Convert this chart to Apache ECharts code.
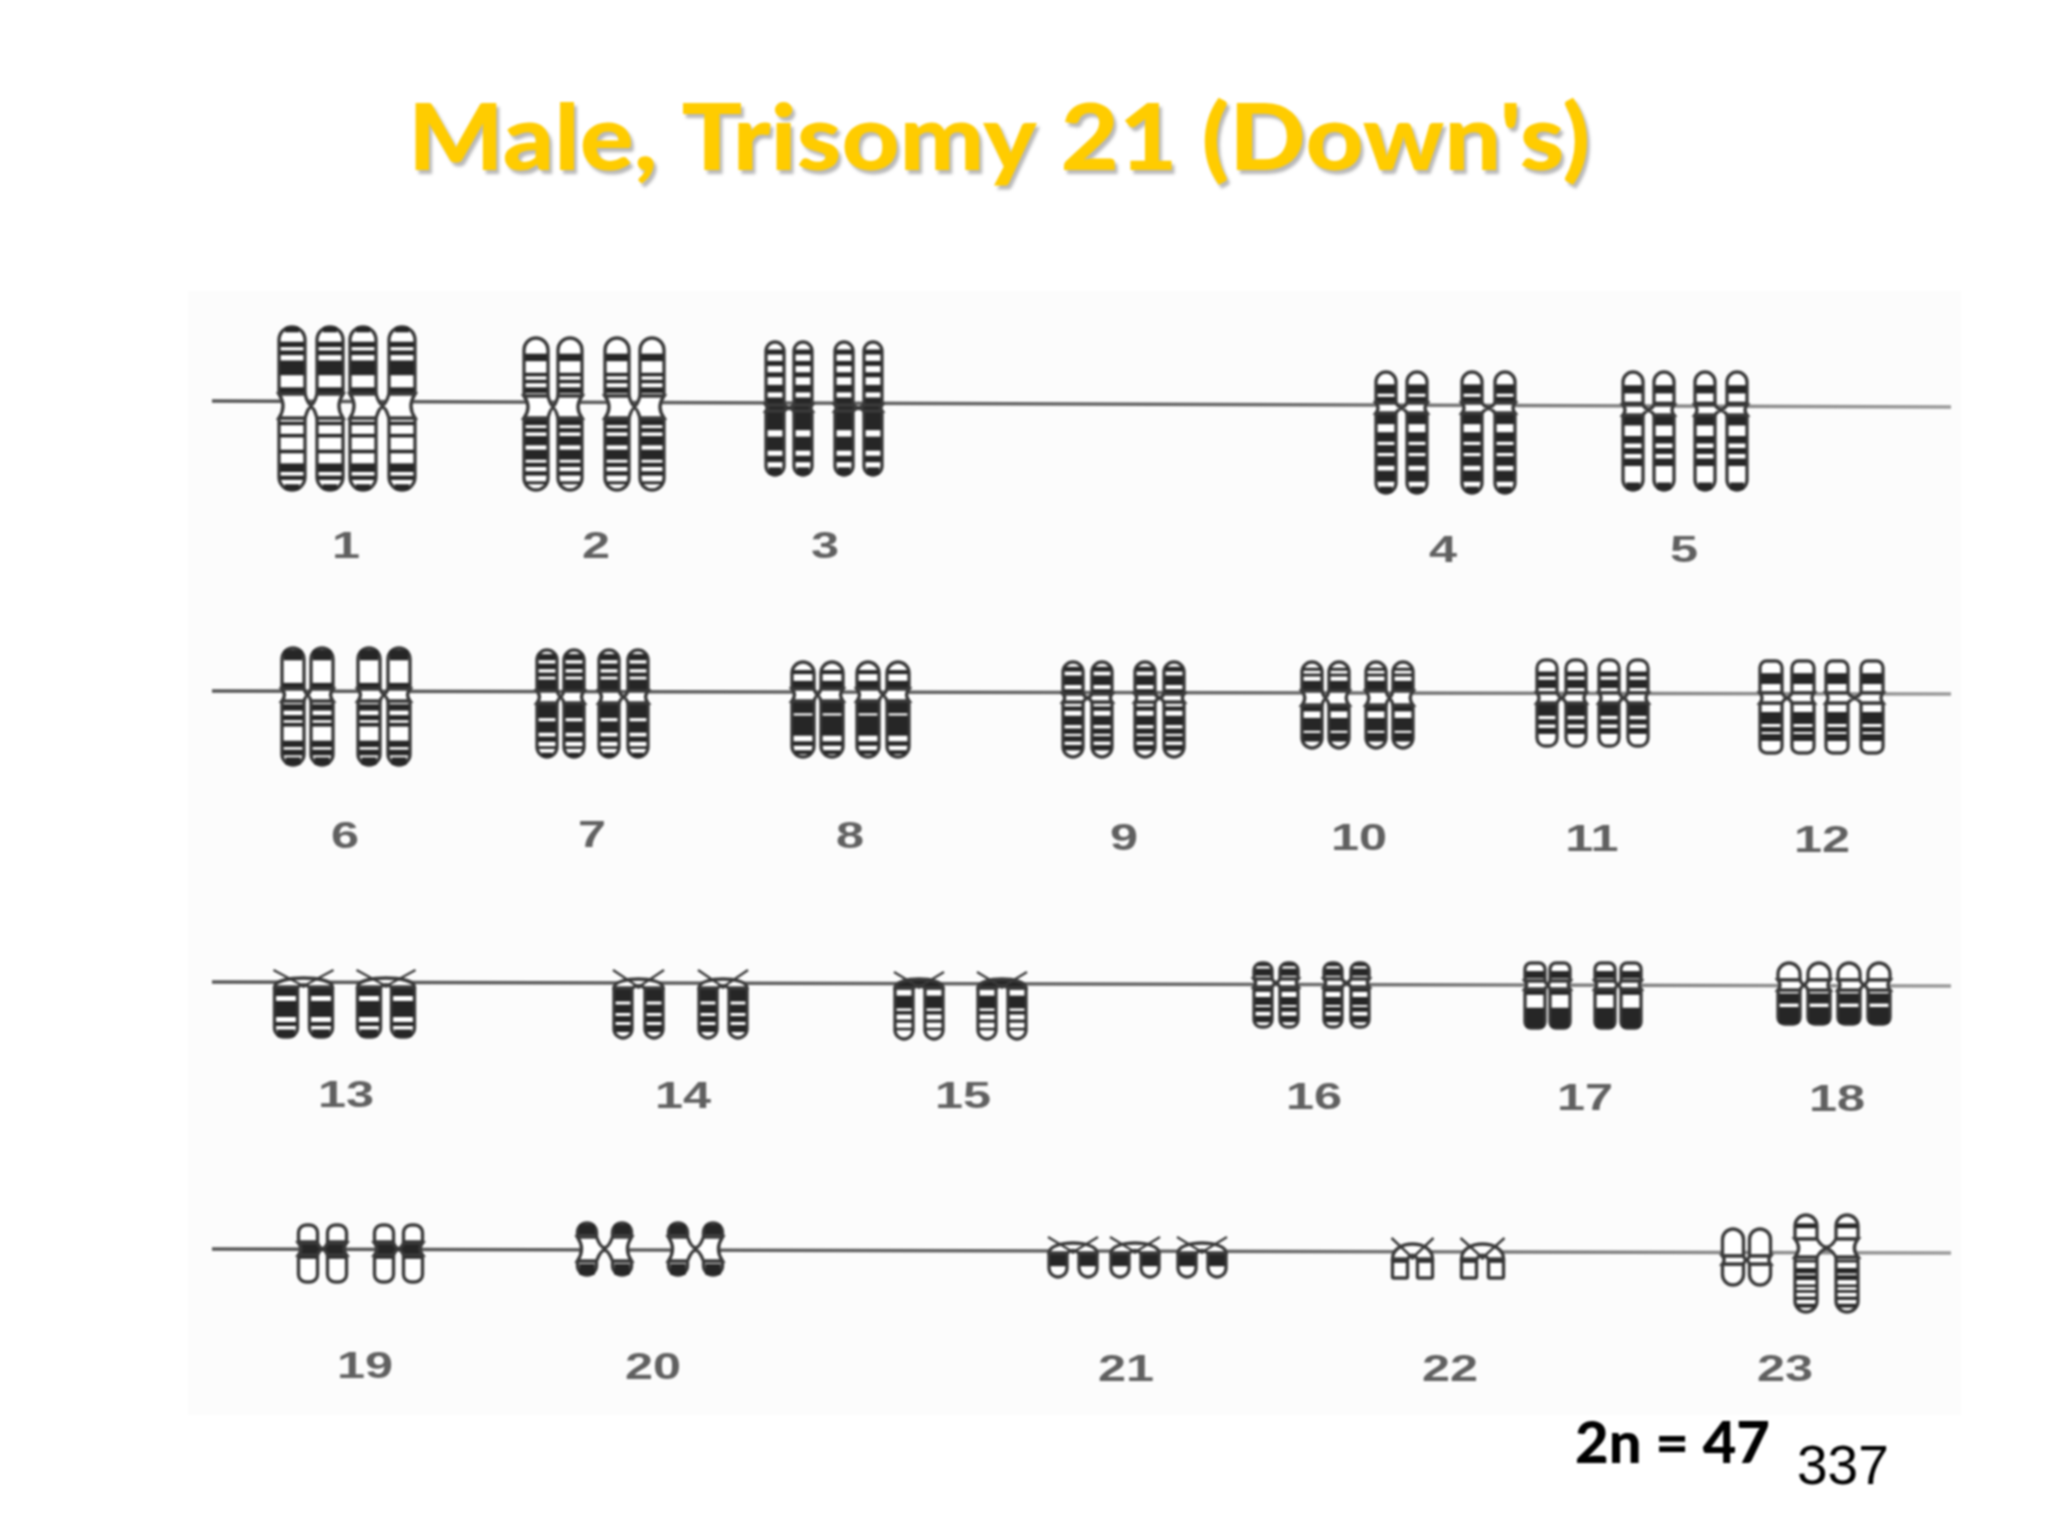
<!DOCTYPE html>
<html><head><meta charset="utf-8">
<style>html,body{margin:0;padding:0;background:#fff}#c{width:2048px;height:1536px;filter:blur(0.9px)}</style>
<script src="https://cdn.jsdelivr.net/npm/echarts@6/dist/echarts.min.js"></script>
</head><body><div id="c"></div>
<script>
const titleText = "Male, Trisomy 21 (Down's)";
const titleAnchor = [408,140];
const countText = "2n = 47";
const pageText = "337";

// Number labels under each chromosome group
const labelTexts = ['1','2','3','4','5','6','7','8','9','10','11','12','13','14','15','16','17','18','19','20','21','22','23'];
const labelX = [346,596,825,1443,1684,345,592,850,1124,1359,1592,1822,346,683,963,1314,1585,1837,365,653,1126,1450,1785];
const labelY = [548,548,548,552,552,838,837,838,840,840,841,842,1097,1098,1098,1099,1100,1101,1368,1369,1371,1371,1371];

// Row rulers (x range and y at each end)
const rulerX = [212,1951];
const rulerY = [[401,407],[691,694],[982,986],[1249,1253]];

// Chromosome groups (group 23 is drawn as two entries: small and large)
const chromatidX = [
 [292,330,363,402],[536,570,617,652],[775,803,844,873],[1386,1417,1472,1505],[1633,1664,1705,1737],
 [293,322,369,399],[547,574,609,638],[803,832,868,898],[1073,1102,1145,1174],[1312,1339,1376,1403],[1547,1576,1609,1638],[1771,1803,1837,1872],
 [286,321,369,403],[623,654,708,738],[904,934,987,1017],[1263,1289,1333,1360],[1535,1560,1605,1631],[1789,1819,1849,1879],
 [308,337,384,413],[587,622,678,713],[1058,1088,1120,1150,1187,1217],[1400,1425,1469,1496],[1733,1760],[1806,1847]
];
const armTop =     [327,338,342,372,372,648,650,662,662,662,660,661,970,970,972,963,963,963,1225,1223,1237,1238,1229,1215];
const waist =      [406,407,408,408,410,695,697,695,698,698,698,698,978,979,979,983,985,985,1249,1249,1243,1244,1260,1248];
const armBottom =  [490,490,475,493,490,765,757,757,757,748,746,753,1037,1038,1039,1027,1028,1024,1282,1275,1277,1278,1285,1312];
const waistHalf =  [12,11,3,5,5,6,6,6,4,7,5,5,9,9,9,4,4,5,6,12,10,15,4,9];
const armWidth =   [26,24,18,20,20,22,20,22,20,20,20,22,23,18,18,18,20,22,19,19,18,15,21,22];
const topRound =   [1,1,1,1,1,1,1,1,1,1,.8,.6,1,1,1,.8,.6,1,.8,1,1,1,1,1];
const endRound =   [1,1,1,1,1,1,1,1,1,1,.8,.6,.8,1,1,.8,.6,.6,.8,1,1,.2,1,1];
const kind =       [0,0,1,0,0,0,0,0,0,0,0,0,2,2,3,0,0,0,1,0,2,2,0,0];

// Dark bands, as start/end shares of each arm, read top to bottom
const bandsP = [
 [[0,.08],[.22,.3],[.35,.42],[.5,.72],[.9,1]],
 [[.27,.4],[.6,.66],[.72,.78],[.85,.95]],
 [[.12,.2],[.3,.38],[.48,.56],[.68,.8],[.88,1]],
 [[.4,.7],[.8,1]],
 [[.4,.65],[.9,1]],
 [[.05,.3],[.85,1]],
 [[.1,.25],[.33,.47],[.55,.65],[.72,1]],
 [[.3,.45],[.7,1]],
 [[.15,.3],[.42,.72],[.85,1]],
 [[.2,.3],[.4,.5],[.65,1]],
 [[.35,.5],[.6,.85]],
 [[.38,.72]],
 [],[],[],
 [[.05,.2],[.35,.8]],
 [[.45,.85]],
 [],
 [[.85,1]],
 [[.1,.85]],
 [],[],[],
 [[.35,.55]]
];
const bandsQ = [
 [[.05,.1],[.22,.27],[.44,.49],[.63,.75],[.8,.86],[.92,1]],
 [[.02,.1],[.14,.2],[.25,.38],[.44,.58],[.62,.68],[.74,.8],[.88,.92]],
 [[0,.3],[.4,.62],[.7,.8],[.88,1]],
 [[0,.14],[.24,.36],[.4,.5],[.54,.66],[.72,.86],[.92,1]],
 [[0,.14],[.28,.38],[.44,.52],[.58,.68],[.9,1]],
 [[.05,.15],[.22,.3],[.34,.4],[.62,.72],[.76,.85],[.88,1]],
 [[0,.28],[.34,.55],[.62,.72],[.8,.85],[.92,1]],
 [[0,.22],[.26,.62],[.72,.8],[.88,.95]],
 [[.08,.16],[.25,.42],[.48,.58],[.62,.72],[.78,.88]],
 [[0,.15],[.3,.6],[.65,.85]],
 [[0,.3],[.38,.5],[.58,.72]],
 [[.18,.42],[.48,.58],[.62,.76]],
 [[0,.18],[.28,.6],[.7,.78],[.85,1]],
 [[0,.27],[.33,.5],[.56,.68],[.74,.88]],
 [[.15,.4],[.45,.52],[.62,.68],[.78,.83]],
 [[.05,.12],[.25,.45],[.5,.62],[.72,.88]],
 [[0,.15],[.48,1]],
 [[.1,.4],[.5,1]],
 [[0,.14]],
 [[.2,1]],
 [[0,.55]],
 [[0,.2]],
 [[0,.06]],
 [[.05,.1],[.2,.3],[.33,.42],[.5,.55],[.6,.65],[.72,.78],[.85,.92]]
];

const panelX = [188,1961];
const panelY = [291,1415];

const INK = '#3a3a3a', DARK = '#262626';

function renderPair(params, api) {
  const i = api.value(2);
  const px = v => api.coord([v, 0])[0];
  const py = v => api.coord([0, v])[1];
  const x1 = px(api.value(0)), x2 = px(api.value(1));
  const top = py(armTop[i]), mid = py(waist[i]), bot = py(armBottom[i]);
  const g = py(waist[i] + waistHalf[i]) - mid;
  const w = px(armWidth[i]) - px(0);
  const k = kind[i], r = w / 2 * endRound[i], rt = w / 2 * topRound[i], xm = (x1 + x2) / 2;
  const L = x1 - w / 2, R = x2 + w / 2, a = x1 + w / 2, b = x2 - w / 2;
  const kids = [];
  const stroke = { stroke: INK, lineWidth: 3.4 };

  function arm(xc, y0, y1, rTop, rBot, bands) {
    kids.push({ type: 'rect', shape: { x: xc - w / 2, y: y0, width: w, height: y1 - y0, r: [rTop, rTop, rBot, rBot] },
      style: Object.assign({ fill: '#fff' }, stroke) });
    bands.forEach(function (bd) {
      const s = y0 + (y1 - y0) * bd[0], e = y0 + (y1 - y0) * bd[1];
      const c = (s + e) / 2;
      let hw = w / 2;
      const dt = c - y0, db = y1 - c;
      if (rTop > 0 && dt < rTop) hw = w / 2 - rTop + Math.sqrt(rTop * rTop - (rTop - dt) * (rTop - dt));
      if (rBot > 0 && db < rBot) hw = w / 2 - rBot + Math.sqrt(rBot * rBot - (rBot - db) * (rBot - db));
      kids.push({ type: 'rect', shape: { x: xc - hw + 1, y: s, width: 2 * hw - 2, height: Math.max(e - s, 1.5) }, style: { fill: DARK } });
    });
  }

  if (k === 0 || k === 1) {
    arm(x1, top, mid - g, rt, 1, bandsP[i]); arm(x2, top, mid - g, rt, 1, bandsP[i]);
    arm(x1, mid + g, bot, 1, r, bandsQ[i]); arm(x2, mid + g, bot, 1, r, bandsQ[i]);
    const pinch = Math.min(g * .8, 8), yu = mid - g, yd = mid + g;
    const d = 'M' + L + ' ' + yu + 'L' + a + ' ' + yu + 'Q' + xm + ' ' + (mid + g * .8) + ' ' + b + ' ' + yu + 'L' + R + ' ' + yu +
      'Q' + (R - pinch) + ' ' + mid + ' ' + R + ' ' + yd + 'L' + b + ' ' + yd + 'Q' + xm + ' ' + (mid - g * .8) + ' ' + a + ' ' + yd +
      'L' + L + ' ' + yd + 'Q' + (L + pinch) + ' ' + mid + ' ' + L + ' ' + yu + 'Z';
    kids.push({ type: 'path', shape: { pathData: d }, style: Object.assign({ fill: k === 1 ? DARK : '#fff' }, stroke) });
  } else {
    const yt = mid + g, ctrl = yt - (yt - mid) / .75;
    arm(x1, yt, bot, 1, r, bandsQ[i]); arm(x2, yt, bot, 1, r, bandsQ[i]);
    const d = 'M' + L + ' ' + yt + 'C' + L + ' ' + ctrl + ' ' + R + ' ' + ctrl + ' ' + R + ' ' + yt + 'L' + b + ' ' + yt +
      'Q' + xm + ' ' + (mid + (yt - mid) * .5) + ' ' + a + ' ' + yt + 'Z';
    kids.push({ type: 'path', shape: { pathData: d }, style: Object.assign({ fill: k === 3 ? DARK : '#fff' }, stroke) });
    const span = x2 - x1;
    kids.push({ type: 'line', shape: { x1: L - 1, y1: top, x2: xm + span * .05, y2: yt }, style: { stroke: INK, lineWidth: 2.5 } });
    kids.push({ type: 'line', shape: { x1: R + 1, y1: top, x2: xm - span * .05, y2: yt }, style: { stroke: INK, lineWidth: 2.5 } });
  }
  return { type: 'group', children: kids };
}

function renderLabel(params, api) {
  const p = api.coord([api.value(0), api.value(1)]);
  return { type: 'text', x: p[0], y: p[1], scaleX: 1.4,
    style: { text: labelTexts[params.dataIndex], fill: '#606060', font: 'bold 36px "Liberation Sans"',
             align: 'center', verticalAlign: 'middle' } };
}

function renderTitle(params, api) {
  const p = api.coord([api.value(0), api.value(1)]);
  return { type: 'text', x: p[0], y: p[1], scaleX: 1.095,
    style: { text: titleText, fill: '#FFCC00', font: '900 92px Lato', align: 'left', verticalAlign: 'middle',
             textShadowColor: '#b8b8b8', textShadowOffsetX: 3, textShadowOffsetY: 4, textShadowBlur: 3 } };
}

function renderPanel(params, api) {
  const a = api.coord([panelX[0], panelY[0]]), b = api.coord([panelX[1], panelY[1]]);
  return { type: 'rect', shape: { x: a[0], y: a[1], width: b[0] - a[0], height: b[1] - a[1] }, style: { fill: '#fcfcfc' } };
}

const pairData = [];
chromatidX.forEach(function (xs, i) {
  for (let j = 0; j + 1 < xs.length; j += 2) pairData.push([xs[j], xs[j + 1], i]);
});

const rulerSeries = rulerY.map(function (ys) {
  return { type: 'line', symbol: 'none', silent: true, z: 2, animation: false,
    lineStyle: { width: 3.5, color: new echarts.graphic.LinearGradient(0, 0, 1, 0, [
      { offset: 0, color: '#555' }, { offset: .6, color: '#666' }, { offset: 1, color: '#999' }]) },
    data: [[rulerX[0], ys[0]], [rulerX[1], ys[1]]] };
});

const chart = echarts.init(document.getElementById('c'), null, { renderer: 'canvas' });
chart.setOption({
  animation: false,
  backgroundColor: '#fff',
  title: [
    { text: countText, left: 1570, top: 1410, textStyle: { fontFamily: 'Lato', fontWeight: 900, fontSize: 58, color: '#000' } },
    { text: pageText, left: 1792, top: 1436, textStyle: { fontFamily: 'Liberation Sans', fontWeight: 'normal', fontSize: 55, color: '#000' } }
  ],
  grid: { left: 0, right: 0, top: 0, bottom: 0 },
  xAxis: { type: 'value', min: 0, max: 2048, show: false },
  yAxis: { type: 'value', min: 0, max: 1536, inverse: true, show: false },
  series: [
    { type: 'custom', silent: true, z: 1, renderItem: renderPanel, data: [[panelX[0], panelY[0]]] }
  ].concat(rulerSeries).concat([
    { type: 'custom', silent: true, z: 3, renderItem: renderPair, data: pairData, encode: { x: 0, y: 2 }, clip: false },
    { type: 'custom', silent: true, z: 4, renderItem: renderLabel, data: labelX.map(function (x, i) { return [x, labelY[i]]; }) },
    { type: 'custom', silent: true, z: 4, renderItem: renderTitle, data: [titleAnchor] }
  ])
});
</script></body></html>
